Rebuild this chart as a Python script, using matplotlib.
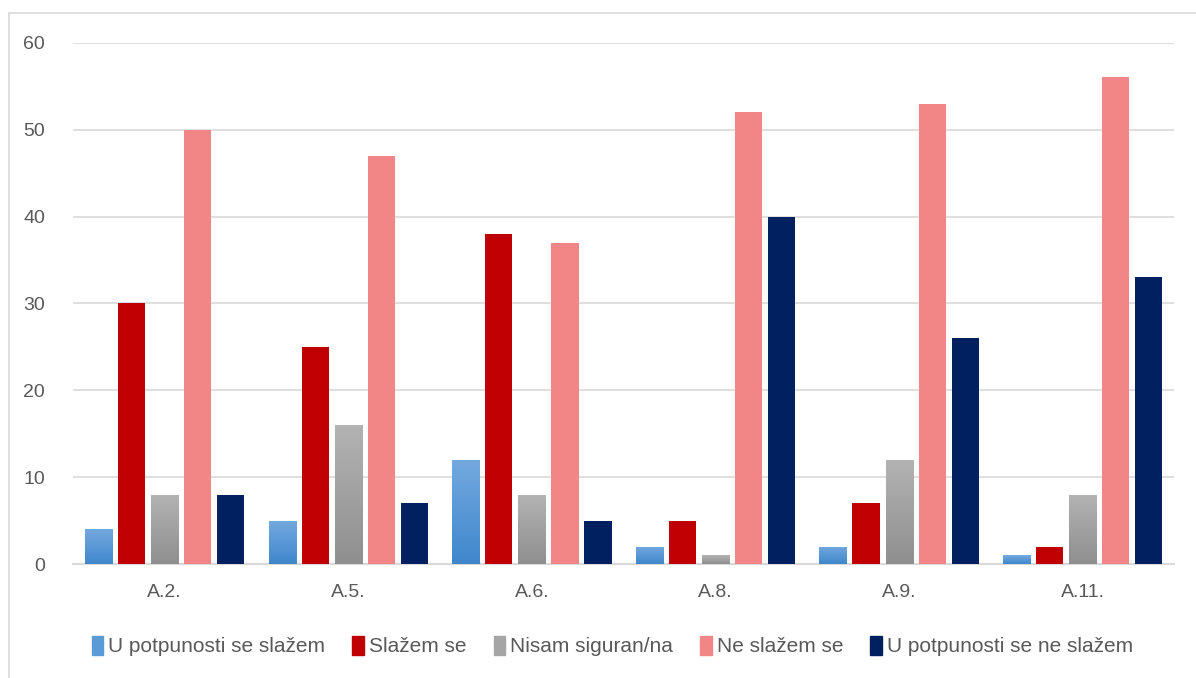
import numpy as np
import matplotlib
matplotlib.use('Agg')
import matplotlib.pyplot as plt
from matplotlib.patches import Rectangle

plt.rcParams['font.family'] = ['Liberation Sans', 'DejaVu Sans']

categories = ['A.2.', 'A.5.', 'A.6.', 'A.8.', 'A.9.', 'A.11.']
series_names = ['U potpunosti se slažem', 'Slažem se', 'Nisam siguran/na',
                'Ne slažem se', 'U potpunosti se ne slažem']
u_potpunosti_slazem = [4, 5, 12, 2, 2, 1]
slazem = [30, 25, 38, 5, 7, 2]
nisam_siguran = [8, 16, 8, 1, 12, 8]
ne_slazem = [50, 47, 37, 52, 53, 56]
u_potpunosti_ne_slazem = [8, 7, 5, 40, 26, 33]
y_ticks = [0, 10, 20, 30, 40, 50, 60]

all_series = [u_potpunosti_slazem, slazem, nisam_siguran, ne_slazem, u_potpunosti_ne_slazem]
colors = ['#5b9bd5', '#c00000', '#a5a5a5', '#f28585', '#002060']
# top/bottom colours for the gradient fills (None = solid)
gradients = [('#74a9df', '#3f87cc'), None, ('#b3b3b3', '#8f8f8f'), None, None]

fig = plt.figure(figsize=(11.96, 6.78), dpi=100)
fig.patches.append(Rectangle((9 / 1196, -0.1), 1.2, 1 - 13 / 678 + 0.1,
                             transform=fig.transFigure, fill=False,
                             edgecolor='#d9d9d9', linewidth=1.2))
ax = fig.add_axes([0.061, 0.168, 0.921, 0.769])

x = np.arange(len(categories))
pitch = 0.18
width = 0.148
for i, vals in enumerate(all_series):
    pos = x + (i - 2) * pitch
    bars = ax.bar(pos, vals, width, color=colors[i], zorder=3, label=series_names[i])
    if gradients[i] is not None:
        top, bot = gradients[i]
        cmap = matplotlib.colors.LinearSegmentedColormap.from_list('g', [bot, top])
        grad = np.linspace(0, 1, 256).reshape(-1, 1)
        for b in bars:
            b.set_facecolor('none')
            bx, by = b.get_x(), b.get_y()
            im = ax.imshow(grad, cmap=cmap, aspect='auto', origin='lower',
                           extent=(bx, bx + b.get_width(), by, by + b.get_height()),
                           zorder=3)
            im.set_clip_path(b)

ax.set_xlim(-0.5, len(categories) - 0.5)
ax.set_ylim(0, 60)
ax.set_yticks(y_ticks)
ax.set_xticks(x)
ax.set_xticklabels(categories)
ax.tick_params(axis='both', length=0, labelsize=14, colors='#595959')
ax.tick_params(axis='x', pad=14)
ax.tick_params(axis='y', pad=20)
ax.grid(axis='y', color='#d9d9d9', linewidth=1.2, zorder=0)
for s in ['top', 'right', 'left']:
    ax.spines[s].set_visible(False)
ax.spines['bottom'].set_color('#d9d9d9')
ax.spines['bottom'].set_linewidth(1.5)

# legend uses solid proxy patches
proxies = [Rectangle((0, 0), 1, 1, color=c) for c in colors]
fig.legend(proxies, series_names, loc='center', bbox_to_anchor=(0.512, 0.047),
           ncol=5, frameon=False, fontsize=15, handlelength=0.55, handleheight=1.0,
           handletextpad=0.25, columnspacing=1.3, labelcolor='#595959')

fig.savefig('out.png', dpi=100)
